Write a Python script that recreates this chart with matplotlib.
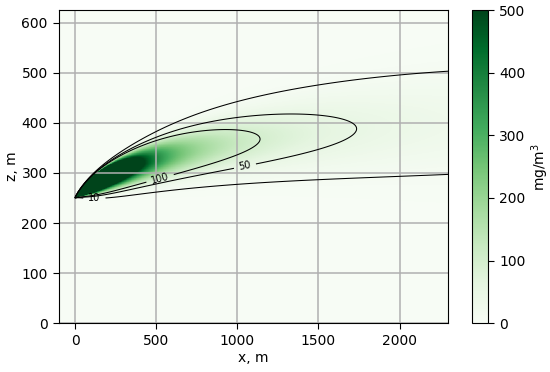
import numpy as np
import matplotlib
matplotlib.use('Agg')
import matplotlib.pyplot as plt

# plume
source_z = 250.0     # m, release height
rise_max = 175.0     # m, final plume rise
rise_len = 1000.0    # m, rise length scale
rise_pow = 0.8
sig_near = 14.0      # m, near-source growth of the spread
sig_near_len = 100.0
sig_slope = 0.0235   # spread growth far from the source
c_ref = 100.0        # mg/m3, centreline value at x_ref
x_ref = 1140.0       # m, tip of the 100 contour
decay_pow = 1.65

levels = [10, 50, 100]
label_pos = {10: (119, 254), 50: (1048, 312), 100: (524, 289)}
cbar_ticks = [0, 100, 200, 300, 400, 500]
x_ticks = [0, 500, 1000, 1500, 2000]
z_ticks = [0, 100, 200, 300, 400, 500, 600]


def plume(x, z):
    xp = np.clip(x, 1.0, None)
    h = source_z + rise_max * (1 - np.exp(-(xp / rise_len) ** rise_pow))
    sig = sig_near * (1 - np.exp(-xp / sig_near_len)) + sig_slope * xp
    cmax = c_ref * (x_ref / xp) ** decay_pow
    # sharp top edge near the source, gaussian underneath
    p_up = 2 + 4 * np.exp(-xp / 250.0)
    sig_dn = sig * (1 - 0.5 * np.exp(-xp / 250.0))
    d = z - h
    up = np.exp(-0.5 * np.abs(d / sig) ** p_up)
    dn = np.exp(-0.5 * (d / sig_dn) ** 2)
    c = cmax * np.where(d > 0, up, dn)
    return np.where(x > 0, c, 0.0)


def run():
    plt.rcParams['font.size'] = 10
    plt.rcParams['xtick.major.size'] = 4.5
    plt.rcParams['ytick.major.size'] = 4.5
    xs = np.linspace(-100, 2300, 1400)
    zs = np.linspace(0, 625, 800)
    X, Z = np.meshgrid(xs, zs)
    C = plume(X, Z)

    fig = plt.figure(figsize=(5.5, 3.72), dpi=100)
    ax = fig.add_axes([0.107, 0.131, 0.708, 0.842])
    cax = fig.add_axes([0.858, 0.131, 0.029, 0.842])

    mesh = ax.pcolormesh(X, Z, C, cmap='Greens', vmin=0, vmax=500,
                         shading='auto', rasterized=True)
    # one contour set per level so each label lands on its own line
    for lev in levels:
        cs = ax.contour(X, Z, C, levels=[lev], colors='k', linewidths=0.75)
        ax.clabel(cs, fmt='%d', fontsize=7, inline=True,
                  manual=[label_pos[lev]])

    ax.set_xlim(-100, 2300)
    ax.set_ylim(0, 625)
    ax.set_xticks(x_ticks)
    ax.set_yticks(z_ticks)
    ax.grid(color='#b0b0b0', linewidth=1.1)
    ax.set_xlabel('x, m', labelpad=2)
    ax.set_ylabel('z, m', labelpad=2)

    cb = fig.colorbar(mesh, cax=cax, ticks=cbar_ticks)
    cb.set_label('mg/m$^3$', labelpad=3)

    fig.savefig('out.png', dpi=100)


if __name__ == '__main__':
    run()
